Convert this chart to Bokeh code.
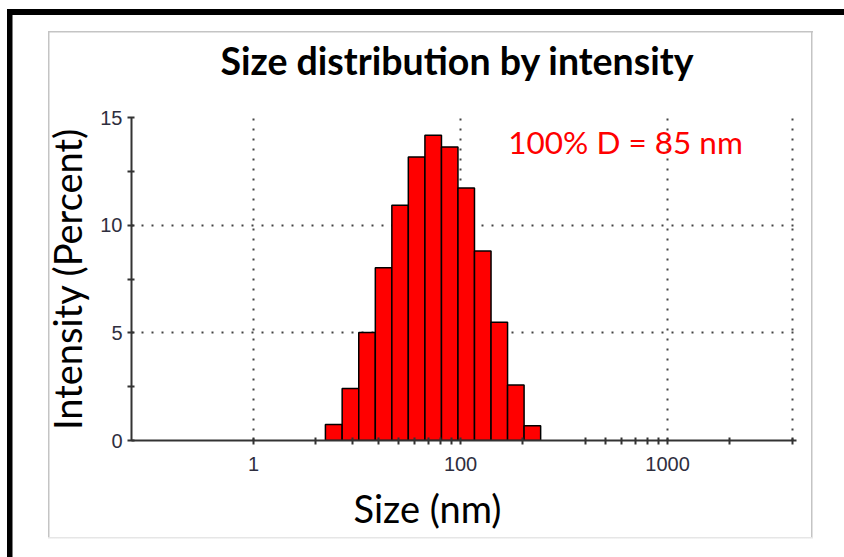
from bokeh.plotting import figure
from bokeh.models import FixedTicker, Label, Title, ColumnDataSource, Range1d
from bokeh.embed import file_html
from bokeh.resources import INLINE
import numpy as np

# ---- data ----
sizes_nm = [24.4, 29.4, 35.3, 42.5, 51.0, 61.3, 73.8, 88.6, 106.5, 128.0, 153.9, 184.9, 222.3]
intensity_pct = [0.74, 2.42, 5.01, 8.02, 10.93, 13.16, 14.17, 13.63, 11.73, 8.80, 5.49, 2.58, 0.68]
x_major_ticks = [10, 100, 1000]
x_tick_labels = {10: "1", 100: "100", 1000: "1000"}
x_minor_ticks = [20, 30, 40, 50, 60, 70, 80, 90, 200, 400, 500, 600, 700, 800, 900, 2000, 4000]
x_grid_ticks = [10, 100, 1000, 4000]
y_major_ticks = [0, 5, 10, 15]
y_minor_ticks = [2.5, 7.5, 12.5]
title_text = "Size distribution by intensity"
x_label = "Size (nm)"
y_label = "Intensity (Percent)"
annotation_text = "100% D = 85 nm"

# bin edges: geometric midpoints between neighbouring bin centres
c = np.array(sizes_nm)
mids = np.sqrt(c[:-1] * c[1:])
r0 = c[1] / c[0]
r1 = c[-1] / c[-2]
left = np.concatenate([[c[0] / np.sqrt(r0)], mids])
right = np.concatenate([mids, [c[-1] * np.sqrt(r1)]])
src = ColumnDataSource(dict(left=left, right=right, top=intensity_pct, bottom=[0] * len(c)))

p = figure(width=844, height=557, x_axis_type="log",
           x_range=Range1d(2.57, 4200), y_range=Range1d(0, 15),
           output_backend="svg", toolbar_location=None,
           min_border_left=131, min_border_right=48,
           min_border_top=116, min_border_bottom=117)
p.background_fill_color = "white"
p.border_fill_color = None
p.outline_line_color = None

# page decorations (outer black frame on top/left, light grey panel border)
p.styles = {
    "background": ", ".join([
        "linear-gradient(#000,#000) 7px 9px / 837px 6px no-repeat",
        "linear-gradient(#000,#000) 7px 9px / 5.5px 548px no-repeat",
        "linear-gradient(#c4c4c4,#c4c4c4) 48px 31px / 765px 1.5px no-repeat",
        "linear-gradient(#e6e6e6,#e6e6e6) 48px 537px / 765px 1.5px no-repeat",
        "linear-gradient(#c4c4c4,#c4c4c4) 48px 31px / 1.5px 507px no-repeat",
        "linear-gradient(#c4c4c4,#c4c4c4) 811px 31px / 1.5px 507px no-repeat",
        "#ffffff",
    ])
}

p.quad(left="left", right="right", top="top", bottom="bottom", source=src,
       fill_color="#ff0000", line_color="black", line_width=1.5)

# grids
p.xgrid.ticker = FixedTicker(ticks=x_grid_ticks)
p.ygrid.ticker = FixedTicker(ticks=y_major_ticks)
for g in (p.xgrid, p.ygrid):
    g.grid_line_color = "#444444"
    g.grid_line_dash = "2 8"
    g.grid_line_width = 2

# axes
xa = p.xaxis[0]
xa.ticker = FixedTicker(ticks=x_major_ticks, minor_ticks=x_minor_ticks)
xa.major_label_overrides = x_tick_labels
ya = p.yaxis[0]
ya.ticker = FixedTicker(ticks=y_major_ticks, minor_ticks=y_minor_ticks)
for ax in (xa, ya):
    ax.axis_line_color = "#333333"
    ax.axis_line_width = 2
    ax.major_tick_line_color = "#333333"
    ax.minor_tick_line_color = "#333333"
    ax.major_tick_line_width = 2
    ax.minor_tick_line_width = 2
    ax.major_tick_in = 3
    ax.major_tick_out = 4
    ax.minor_tick_in = 3
    ax.minor_tick_out = 4
    ax.major_label_text_font = "Liberation Sans"
    ax.major_label_text_font_size = "20px"
    ax.major_label_text_color = "#2e2e3e"
xa.major_label_standoff = 12
ya.major_label_standoff = 5
ya.axis_label = y_label
ya.axis_label_text_font = "Lato"
ya.axis_label_text_font_style = "normal"
ya.axis_label_text_font_size = "38px"
ya.axis_label_text_color = "black"
ya.axis_label_standoff = 7

# title (above) and x label (below, as a second title so it can be offset)
p.title.text = title_text
p.title.align = "left"
p.title.offset = 89
p.title.text_font = "Lato"
p.title.text_font_style = "bold"
p.title.text_font_size = "37.5px"
p.title.text_color = "black"
p.title.standoff = 70

p.add_layout(Title(text=x_label, align="left", offset=222, text_font="Lato",
                   text_font_style="normal", text_font_size="38px",
                   text_color="black", standoff=18), "below")

p.add_layout(Label(x=170, y=13.86, text=annotation_text, text_align="left",
                   text_baseline="alphabetic", text_font="Lato",
                   text_font_size="31.5px", text_color="#ff0000"))

open("out.html", "w").write(file_html(p, INLINE))
